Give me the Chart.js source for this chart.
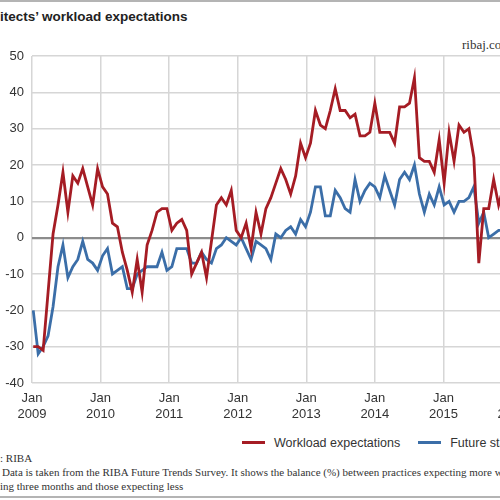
<!DOCTYPE html>
<html>
<head>
<meta charset="utf-8">
<script src="https://cdn.jsdelivr.net/npm/chart.js@4"></script>
<style>
  html, body { margin: 0; padding: 0; background: #fff; }
  #frame { position: relative; width: 500px; height: 500px; overflow: hidden; background: #fff; }
  .rule { position: absolute; left: 0; width: 500px; height: 2px; background: #b4b4b4; }
  .cut { position: absolute; white-space: nowrap; }
  #title { top: 9px; font: bold 13.5px "Liberation Sans", sans-serif; color: #222; }
  #site { top: 37px; font: 13px "Liberation Serif", serif; color: #333; }
  #chartBox { position: absolute; left: 0; top: 40px; width: 600px; height: 383px; }
  #legend { position: absolute; top: 435px; left: 242px; white-space: nowrap; font: 12.5px "Liberation Sans", sans-serif; color: #333; }
  #legend span { display: inline-block; vertical-align: middle; }
  #legend .swatch { width: 23px; height: 3px; margin-right: 9px; }
  .note { font: 11px "Liberation Serif", serif; color: #333; }
</style>
</head>
<body>
<div id="frame">
  <div class="rule" style="top:0"></div>
  <div id="title" class="cut" data-x="0"><span class="pre">Arch</span>itects’ workload expectations</div>
  <div id="site" class="cut" data-x="462">ribaj.com</div>
  <div id="chartBox"><canvas id="grafico"></canvas></div>
  <div id="legend">
    <span class="swatch" style="background:#a51c24"></span><span style="margin-right:18px">Workload expectations</span><span class="swatch" style="background:#3b6ea8"></span><span>Future staffing expectations</span>
  </div>
  <div class="cut note" data-x="0" style="top:452px"><span class="pre">Source</span>: RIBA</div>
  <div class="cut note" data-x="2" style="top:466px"><span class="pre">Note: </span>Data is taken from the RIBA Future Trends Survey. It shows the balance (%) between practices expecting more work in the</div>
  <div class="cut note" data-x="0" style="top:480px"><span class="pre">com</span>ing three months and those expecting less</div>
  <div class="rule" style="top:496px"></div>
</div>
<script>
// Balance (%) por mês, a partir de jan/2009
const workload = [
  -30, -30, -31, -15, 1, 9, 18, 7, 17, 15, 19, 14,
  9, 19, 14, 12, 4, 3, -4, -9, -15, -6, -15, -2,
  2, 7, 8, 8, 2, 4, 5, 2, -10, -7, -4, -11,
  -1, 9, 11, 9, 13, 2, 0, 4, -3, 7, 1, 8,
  11, 15, 19, 16, 12, 17, 26, 22, 26, 35, 31, 30,
  35, 41, 35, 35, 33, 34, 28, 28, 29, 37, 29, 29,
  29, 26, 36, 36, 37, 44, 22, 21, 21, 18, 27, 15,
  29, 21, 31, 29, 30, 22, -7, 8, 8, 16, 9, 14
];
const staffing = [
  -20, -32, -30, -27, -19, -8, -2, -11, -8, -6, -1, -6,
  -7, -9, -5, -3, -10, -9, -8, -14, -14, -10, -9, -8,
  -8, -8, -4, -9, -8, -3, -3, -3, -7, -7, -4, -6,
  -7, -3, -2, 0, -1, -2, 0, -3, -6, -1, -2, -3,
  -6, 1, 0, 2, 3, 1, 5, 3, 7, 14, 14, 6,
  6, 13, 11, 8, 7, 16, 10, 13, 15, 14, 11, 17,
  13, 9, 16, 18, 16, 20, 12, 7, 12, 9, 14, 9,
  10, 7, 10, 10, 11, 14, 4, 7, 0, 1, 2, 2
];
const yearLabels = ['2009', '2010', '2011', '2012', '2013', '2014', '2015', '2016'];
const yTicks = [50, 40, 30, 20, 10, 0, -10, -20, -30, -40];

const X_START = -0.25;
const TICK_STEP = 13.85;

// posiciona textos cortados na borda
document.querySelectorAll('.cut').forEach(el => {
    const pre = el.querySelector('.pre');
    const w = pre ? pre.getBoundingClientRect().width : 0;
    el.style.left = (parseFloat(el.dataset.x) - w) + 'px';
});

const paraPontos = (serie) => serie.map((v, i) => ({ x: i, y: v }));

const fonteEixo = { family: '"Liberation Sans", sans-serif', size: 13 };

new Chart(document.getElementById('grafico'), {
    type: 'line',
    data: {
        datasets: [
            {
                label: 'Workload expectations',
                data: paraPontos(workload),
                borderColor: '#a51c24',
                borderWidth: 2.8,
                pointRadius: 0,
                tension: 0
            },
            {
                label: 'Future staffing expectations',
                data: paraPontos(staffing),
                borderColor: '#3b6ea8',
                borderWidth: 2.8,
                pointRadius: 0,
                tension: 0
            }
        ]
    },
    options: {
        responsive: true,
        maintainAspectRatio: false,
        animation: false,
        layout: { padding: { top: 16, right: 40, bottom: 0, left: 0 } },
        plugins: {
            legend: { display: false },
            tooltip: { enabled: false }
        },
        scales: {
            x: {
                type: 'linear',
                min: X_START,
                max: 106.4,
                afterBuildTicks: (scale) => {
                    scale.ticks = yearLabels.map((_, k) => ({ value: X_START + k * TICK_STEP }));
                },
                afterFit: (scale) => { scale.height = 40; },
                grid: { color: '#d6d6d6', lineWidth: 1.5, drawTicks: false },
                border: { display: false },
                ticks: {
                    autoSkip: false,
                    maxRotation: 0,
                    padding: 8,
                    color: '#333',
                    font: fonteEixo,
                    callback: (value, index) => ['Jan', yearLabels[index]]
                }
            },
            y: {
                min: -40,
                max: 50,
                afterBuildTicks: (scale) => {
                    scale.ticks = yTicks.map(v => ({ value: v }));
                },
                afterFit: (scale) => { scale.width = 32; },
                grid: {
                    drawTicks: false,
                    color: (c) => c.tick && c.tick.value === 0 ? '#8c8c8c' : '#d6d6d6',
                    lineWidth: (c) => c.tick && c.tick.value === 0 ? 2.2 : 1.5
                },
                border: { display: false },
                ticks: {
                    padding: 8,
                    color: '#333',
                    font: fonteEixo
                }
            }
        }
    }
});
</script>
</body>
</html>
